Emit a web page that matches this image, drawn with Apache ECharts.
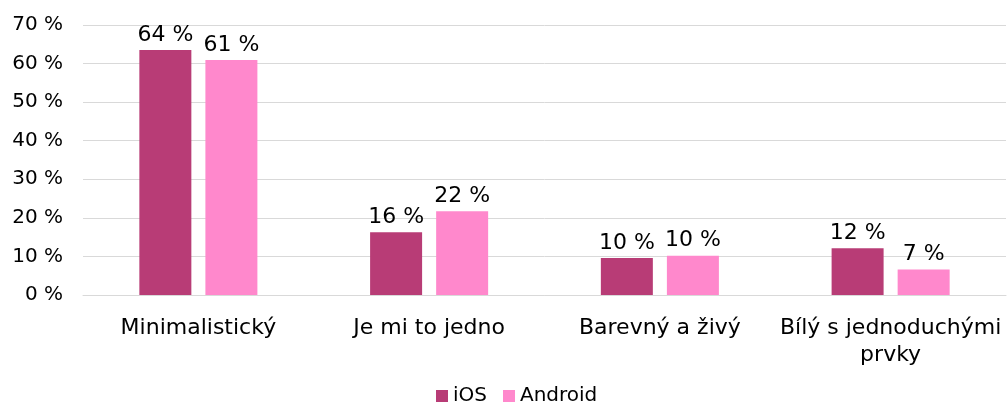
<!DOCTYPE html>
<html>
<head>
<meta charset="utf-8" />
<title>Vzhled aplikace</title>
<script type="text/javascript" src="https://cdn.jsdelivr.net/npm/echarts@6/dist/echarts.min.js"></script>
<style type="text/css">
html, body {
	margin: 0;
	width: 100%;
	height: 100%;
	background: #fff;
}

#main {
	width: 1007px;
	height: 405px;
}
</style>
</head>
<body>
<div id="main"></div>

<script type="text/javascript">
var categories = ['Minimalistický', 'Je mi to jedno', 'Barevný a živý', 'Bílý s jednoduchými\nprvky'];
var iosValues = [63.5, 16.3, 9.6, 12.1];
var androidValues = [60.9, 21.7, 10.2, 6.6];
var yTicks = [0, 10, 20, 30, 40, 50, 60, 70];

var font = '"DejaVu Sans"';
var chart = echarts.init(document.getElementById('main'), null, { renderer: 'canvas' });

function barLabel() {
    return {
        show: true,
        position: 'top',
        distance: 4,
        fontFamily: font,
        fontSize: 22,
        color: '#000',
        formatter: function (p) {
            return Math.round(p.value) + ' %';
        }
    };
}

var option = {
    animation: false,
    textStyle: { fontFamily: font },
    grid: {
        left: 83,
        right: 1,
        top: 25,
        bottom: 110,
        outerBoundsMode: 'none'
    },
    legend: {
        top: 381,
        left: 431,
        itemWidth: 12,
        itemHeight: 12,
        itemGap: 16,
        icon: 'rect',
        textStyle: { fontFamily: font, fontSize: 20, color: '#000' },
        data: ['iOS', 'Android']
    },
    xAxis: {
        type: 'category',
        data: categories,
        axisLine: { lineStyle: { color: '#d9d9d9', width: 1 } },
        axisTick: { show: false },
        axisLabel: {
            fontFamily: font,
            fontSize: 22,
            color: '#000',
            margin: 20,
            lineHeight: 27,
            interval: 0
        }
    },
    yAxis: {
        type: 'value',
        min: yTicks[0],
        max: yTicks[yTicks.length - 1],
        interval: 10,
        axisLine: { show: false },
        axisTick: { show: false },
        splitLine: { lineStyle: { color: '#d9d9d9', width: 1 } },
        axisLabel: {
            fontFamily: font,
            fontSize: 20,
            color: '#000',
            margin: 20,
            formatter: '{value} %'
        }
    },
    series: [{
        name: 'iOS',
        type: 'bar',
        data: iosValues,
        barWidth: 52,
        barGap: '27%',
        itemStyle: { color: '#b83c76' },
        label: barLabel()
    }, {
        name: 'Android',
        type: 'bar',
        data: androidValues,
        barWidth: 52,
        itemStyle: { color: '#ff88cc' },
        label: barLabel()
    }]
};

chart.setOption(option);
</script>
</body>
</html>
